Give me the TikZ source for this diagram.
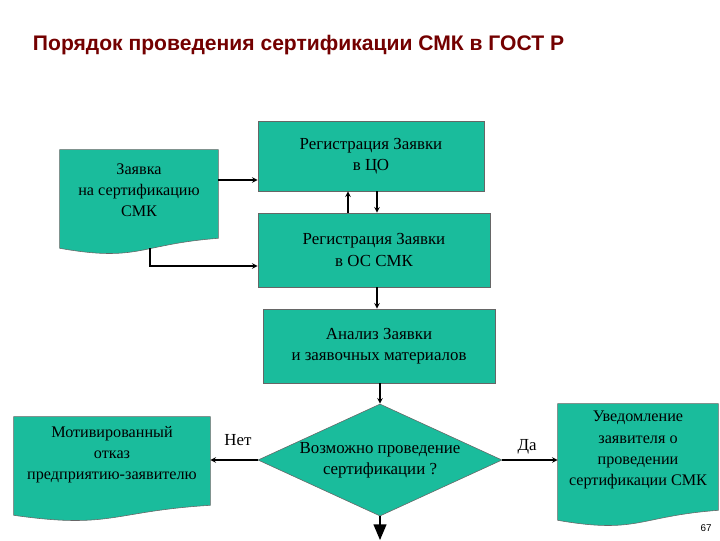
\documentclass[tikz,border=0pt]{standalone}
\usepackage{fontspec}
\setmainfont{Liberation Serif}
\newfontfamily\titlefont{Liberation Sans}
\usetikzlibrary{shapes.geometric, arrows, backgrounds}
\definecolor{teal}{RGB}{26,188,156}

\begin{document}
\begin{tikzpicture}[x=0.025cm, y=-0.025cm, font=\fontsize{12}{15}\selectfont]
    \tikzstyle{arrow} = [thick,->,>=stealth]
    \tikzstyle{process} = [rectangle, minimum height=1.75cm, text centered, align=center, draw=black!60, fill=teal]
    \tikzstyle{document} = [rectangle, text centered, align=center]
    \tikzstyle{label} = [align=center, font=\fontsize{11.5}{15}\selectfont]
    \tikzstyle{decision} = [diamond, aspect=2.2, minimum width=6.1cm, minimum height=2.8cm, inner sep=0pt, align=center, draw=black!60, fill=teal]
    \useasboundingbox (0,0) rectangle (720,540);
    \node (title) [anchor=west] at (28,45) {\titlefont\bfseries\fontsize{15}{18}\selectfont\color{red!45!black}Порядок проведения сертификации СМК в ГОСТ Р};
    % documents
    \node (req) [document, minimum width=3.95cm, minimum height=2.45cm] at (139,199) {};
    \node (refuse) [document, minimum width=4.9cm, minimum height=2.45cm] at (112,466) {};
    \node (notice) [document, minimum width=4cm, minimum height=2.9cm] at (638,462) {};
    \begin{scope}[on background layer]
      \foreach \d in {req, refuse, notice}
        \draw[draw=black!60, fill=teal] (\d.south west) -- (\d.north west) -- (\d.north east) -- ([yshift=0.25cm]\d.south east)
          .. controls ([yshift=0.1cm]\d.south) and ([yshift=-0.35cm]\d.south) .. (\d.south west);
    \end{scope}
    \node [label] at (139,190) {Заявка\\на сертификацию\\СМК};
    \node [label] at (112,455) {Мотивированный\\отказ\\предприятию-заявителю};
    \node [label] at (638,450) {Уведомление\\заявителя о\\проведении\\сертификации СМК};
    % processes
    \node (regco) [process, minimum width=5.65cm] at (371,156) {Регистрация Заявки\\в ЦО};
    \node (regos) [process, minimum width=5.8cm, minimum height=1.85cm] at (374,250) {Регистрация Заявки\\в ОС СМК};
    \node (anal) [process, minimum width=5.8cm, minimum height=1.85cm] at (379,346) {Анализ Заявки\\и заявочных материалов};
    \node (check) [decision] at (380,460) {Возможно проведение\\сертификации ?};
    \coordinate (end) at (380,540);
    \node (no) at (238,440) {Нет};
    \node (yes) at (527,447) {Да};
    \node (page) at (706,528) {\titlefont\fontsize{7}{8}\selectfont 67};
    % connectors
    \coordinate (a) at (218,180);
    \coordinate (b) at (150,248);
    \coordinate (up) at (348,0);
    \coordinate (down) at (377,0);
    \draw [arrow] (a) -- (a -| regco.west);
    \draw [arrow] (b) |- ([yshift=-0.4cm]regos.west);
    \draw [arrow] (up |- regos.north) -- (up |- regco.south);
    \draw [arrow] (down |- regco.south) -- (down |- regos.north);
    \draw [arrow] (down |- regos.south) -- (down |- anal.north);
    \draw [arrow] (check.north |- anal.south) -- (check.north);
    \draw [arrow] (check.west) -- (refuse.east |- check.west);
    \draw [arrow] (check.east) -- (notice.west |- check.east);
    \draw [ultra thick,->,>=triangle 45] (check.south) -- (end);
\end{tikzpicture}
\end{document}
